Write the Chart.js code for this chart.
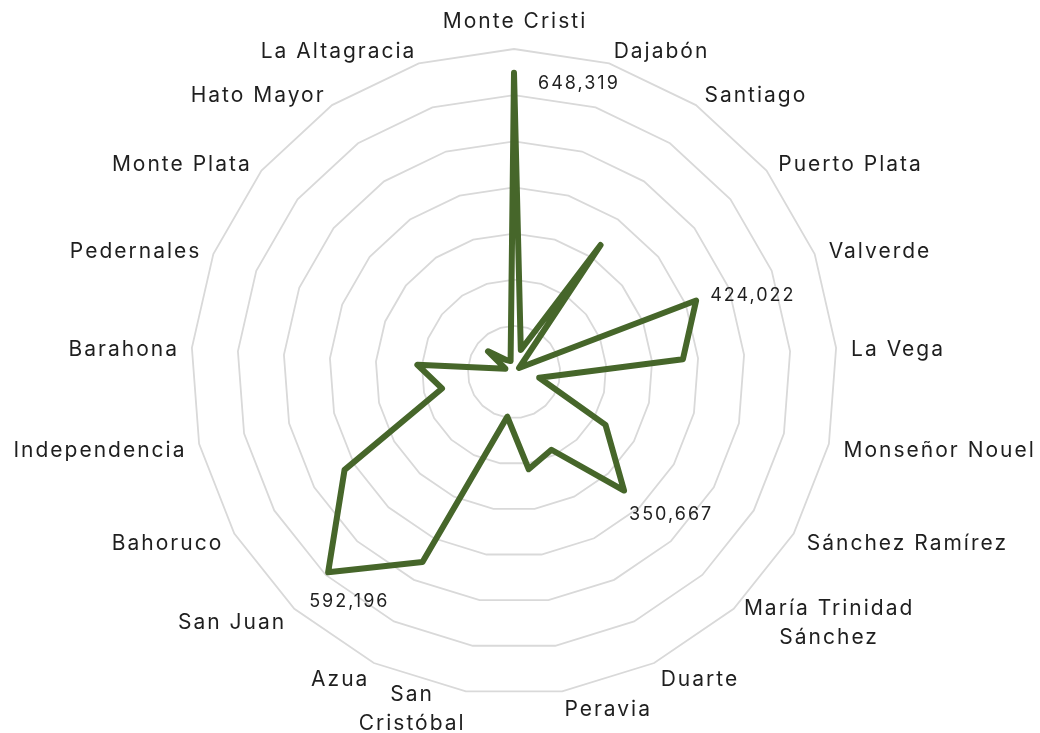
<!DOCTYPE html>
<html lang="es">
<head>
  <meta charset="UTF-8">
  <title>Provincias</title>
  <script src="https://cdn.jsdelivr.net/npm/chart.js"></script>
  <style>
    body { margin: 0; background: #fff; }
    .wrap { width: 1040px; height: 733px; position: relative; }
  </style>
</head>
<body>
<div class="wrap">
  <canvas id="radarChart"></canvas>
</div>

<script>
  // provinces, clockwise from the top
  const provinces = [
    "Monte Cristi", "Dajabón", "Santiago", "Puerto Plata", "Valverde", "La Vega",
    "Monseñor Nouel", "Sánchez Ramírez", ["María Trinidad", "Sánchez"], "Duarte",
    "Peravia", ["San", "Cristóbal"], "Azua", "San Juan", "Bahoruco", "Independencia",
    "Barahona", "Pedernales", "Monte Plata", "Hato Mayor", "La Altagracia"
  ];
  const values = [
    648319, 50000, 333000, 14000, 424022, 367000,
    56000, 229000, 350667, 187000,
    213000, 98000, 457000, 592196, 424000, 160000,
    210000, 20000, 72000, 32000, 25000
  ];
  // only these points carry a value label
  const labelledPoints = [0, 4, 8, 13];
  const scaleMax = 700000;
  const scaleStep = 100000;

  const green = "#46662a";
  const textColor = "#1f1f1f";

  // offsets of the value labels from their points
  const valueLabelOffsets = {
    0: [24, 11],
    4: [14, -5],
    8: [5, 24],
    13: [-19, 29]
  };

  const labelPlugin = {
    id: "labelPlugin",
    afterDraw(chart) {
      const ctx = chart.ctx;
      const scale = chart.scales.r;
      const n = provinces.length;
      ctx.save();
      ctx.fillStyle = textColor;
      ctx.font = "21px Inter";
      ctx.letterSpacing = "2px";
      ctx.textBaseline = "middle";
      ctx.textAlign = "center";
      const lineH = 29;
      for (let i = 0; i < n; i++) {
        const pos = scale.getPointPosition(i, scale.drawingArea + 15);
        const lines = Array.isArray(provinces[i]) ? provinces[i] : [provinces[i]];
        const ang = i * 2 * Math.PI / n;
        const s = Math.sin(ang);
        const w = Math.max(...lines.map(l => ctx.measureText(l).width)) - 2;
        let cx = pos.x;
        let cy = pos.y + 3;
        if (i === 0) {
          cy = pos.y - 12;
        } else if (s > 0) {
          cx = pos.x + w / 2;
        } else {
          cx = pos.x - w / 2;
        }
        const top = cy - (lines.length - 1) * lineH / 2;
        lines.forEach((l, k) => ctx.fillText(l, cx + 1, top + k * lineH));
      }

      // value labels
      const meta = chart.getDatasetMeta(0);
      ctx.font = "18px Inter";
      ctx.textAlign = "left";
      labelledPoints.forEach(i => {
        const pt = meta.data[i];
        const off = valueLabelOffsets[i];
        ctx.fillText(values[i].toLocaleString("en-US"), pt.x + off[0], pt.y + off[1]);
      });
      ctx.restore();
    }
  };

  document.addEventListener("DOMContentLoaded", function () {
    const ctx = document.getElementById("radarChart").getContext("2d");
    new Chart(ctx, {
      type: "radar",
      data: {
        labels: provinces,
        datasets: [{
          label: "Valor",
          data: values,
          borderColor: green,
          borderWidth: 6,
          borderJoinStyle: "round",
          borderCapStyle: "round",
          backgroundColor: "transparent",
          fill: false,
          pointRadius: 0,
          pointHoverRadius: 0,
          tension: 0
        }]
      },
      options: {
        responsive: true,
        maintainAspectRatio: false,
        animation: false,
        layout: {
          padding: { left: 191, right: 203, top: 49, bottom: 38 }
        },
        plugins: {
          legend: { display: false },
          tooltip: { enabled: false }
        },
        scales: {
          r: {
            min: 0,
            max: scaleMax,
            ticks: { display: false, stepSize: scaleStep },
            grid: { color: "#d9d9d9", lineWidth: 1.8 },
            angleLines: { display: false },
            pointLabels: { display: false }
          }
        }
      },
      plugins: [labelPlugin]
    });
  });
</script>
</body>
</html>
